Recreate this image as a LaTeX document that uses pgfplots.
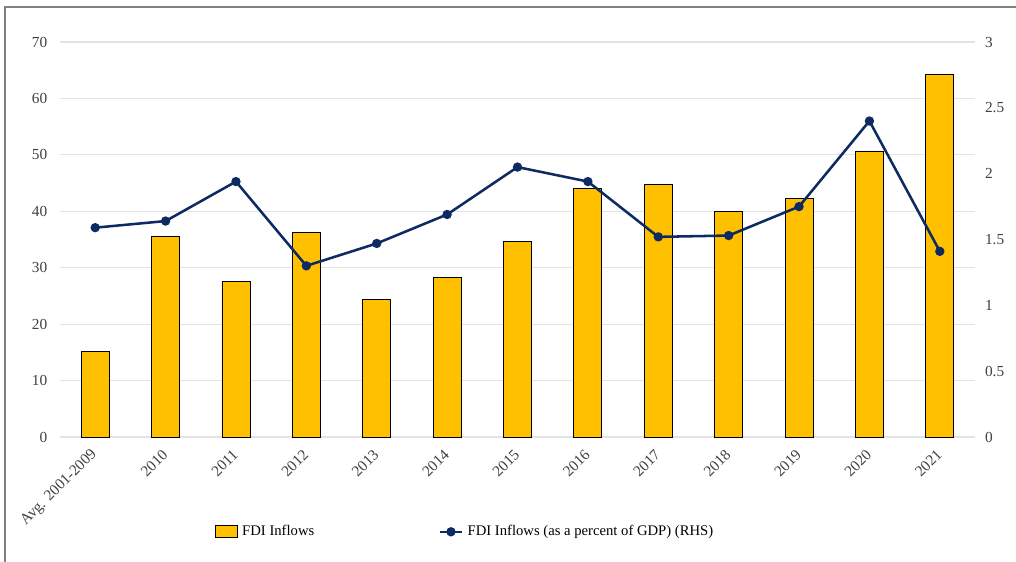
\documentclass[border=0pt]{standalone}
\usepackage{fontspec}
\setmainfont{Liberation Serif}
\usepackage{pgfplots}
\pgfplotsset{compat=1.18}
\definecolor{barc}{HTML}{FFC000}
\definecolor{linec}{HTML}{0E2A62}
\pgfplotsset{mybarlegend/.style={legend image code/.code={\draw[##1] (0pt,-4.5pt) rectangle (17pt,4.5pt);}}}
\begin{document}
\begin{tikzpicture}
\pgfplotsset{
  common/.style={
    at={(0pt,0pt)}, anchor=south west,
    scale only axis, width=686.25pt, height=296.25pt,
    xmin=-0.5, xmax=12.5,
    major tick length=0pt,
    /pgf/number format/assume math mode=true,
    ticklabel style={font=\fontsize{11.5}{13}\selectfont, text=black!75},
  }
}
\begin{axis}[common,
  ymin=0, ymax=70, ytick={0,10,...,70},
  ymajorgrids, grid style={gray!22, line width=0.8pt},
  axis line style={draw=none},
  xtick={0,...,12},
  xticklabels={Avg. 2001-2009,2010,2011,2012,2013,2014,2015,2016,2017,2018,2019,2020,2021},
  xticklabel style={xshift=2pt, yshift=-9pt, rotate=45, anchor=east},
  yticklabel style={xshift=-6pt},
  legend columns=2,
  legend style={at={(0.443,-0.24)}, anchor=center, draw=none, fill=none,
    font=\fontsize{11}{13}\selectfont,
    /tikz/every even column/.append style={column sep=91pt},
    /tikz/every odd column/.append style={column sep=1pt}},
]
\addplot[ybar, bar width=21pt, fill=barc, draw=black, line width=0.6pt, mybarlegend]
  coordinates {(0,15.2) (1,35.6) (2,27.5) (3,36.2) (4,24.3) (5,28.2) (6,34.7)
               (7,44.1) (8,44.7) (9,39.9) (10,42.2) (11,50.7) (12,64.2)};
\addlegendentry{FDI Inflows}
\addlegendimage{linec, line width=1.9pt, mark=*, mark size=2.5pt}
\addlegendentry{FDI Inflows (as a percent of GDP) (RHS)}
\end{axis}
\begin{axis}[common,
  ymin=0, ymax=3, ytick={0,0.5,...,3},
  axis x line=none, axis y line*=right,
  axis line style={draw=none},
  yticklabel style={xshift=4pt},
]
\addplot[linec, line width=1.9pt, mark=*, mark size=2.5pt]
  coordinates {(0,1.59) (1,1.64) (2,1.94) (3,1.30) (4,1.47) (5,1.69) (6,2.05)
               (7,1.94) (8,1.52) (9,1.53) (10,1.75) (11,2.40) (12,1.41)};
\end{axis}
\pgfresetboundingbox
\useasboundingbox (-45pt,-93pt) rectangle (717pt,327.75pt);
\draw[gray, line width=1.5pt] (-41.25pt,-94pt) -- (-41.25pt,322.5pt) -- (718pt,322.5pt);
\end{tikzpicture}
\end{document}
